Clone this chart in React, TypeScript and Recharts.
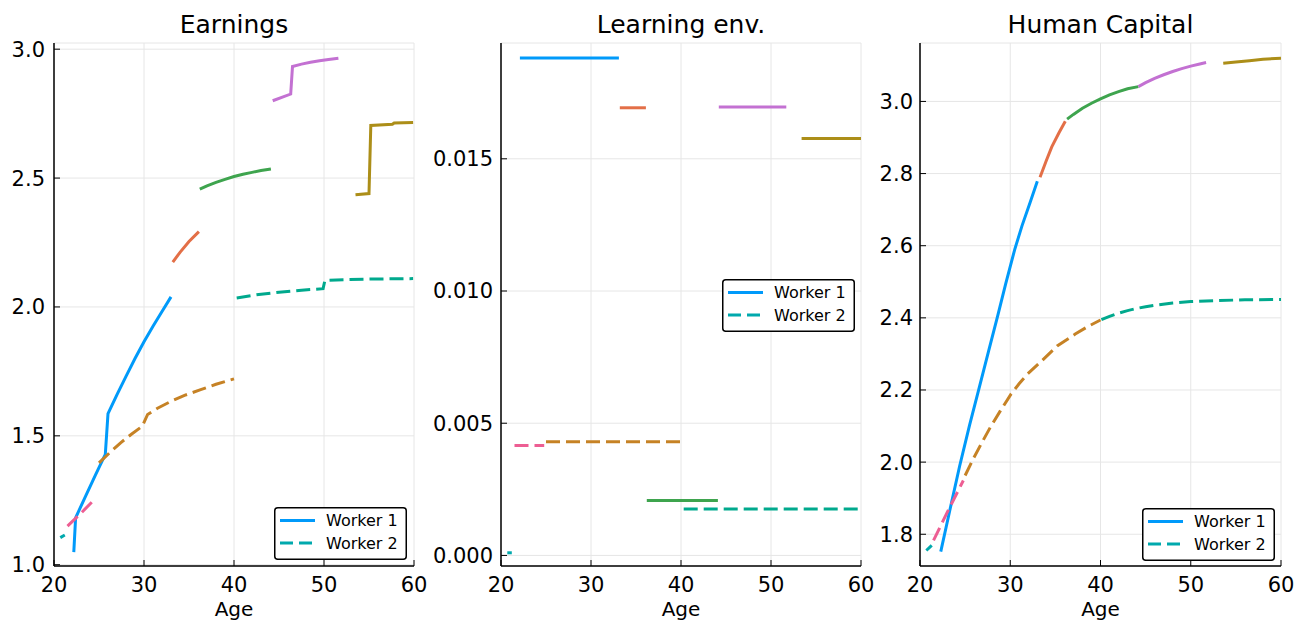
import React from 'react';
import { LineChart, Line, XAxis, YAxis, CartesianGrid, Legend } from 'recharts';

type Pt = [number, number];

const FONT = "'DejaVu Sans', sans-serif";

// Julia default palette
const C_BLUE = '#009AFA';
const C_ORANGE = '#E36F47';
const C_GREEN = '#3EA44E';
const C_PURPLE = '#C371D2';
const C_OLIVE = '#AC8E18';
const C_TEAL = '#00A9AD';
const C_PINK = '#ED5E93';
const C_BROWN = '#C68225';
const C_TEALGREEN = '#00A98D';

const ageTicks = [20, 30, 40, 50, 60];
const earnTicks = [1.0, 1.5, 2.0, 2.5, 3.0];
const learnTicks = [0, 0.005, 0.01, 0.015];
const hcTicks = [1.8, 2.0, 2.2, 2.4, 2.6, 2.8, 3.0];

// ---------- Earnings ----------
const earnW1Job1: Pt[] = [[22.2, 1.049], [22.4, 1.182], [23.5, 1.265], [24.6, 1.348], [25.7, 1.428], [26.0, 1.586], [27.0, 1.66], [28.0, 1.731], [29.0, 1.8], [30.0, 1.865], [31.0, 1.925], [32.0, 1.982], [33.0, 2.039]];
const earnW1Job2: Pt[] = [[33.2, 2.174], [34.0, 2.212], [35.0, 2.254], [36.1, 2.292]];
const earnW1Job3: Pt[] = [[36.2, 2.457], [37.0, 2.47], [38.0, 2.483], [39.0, 2.495], [40.0, 2.506], [41.0, 2.515], [42.0, 2.522], [43.0, 2.529], [44.1, 2.535]];
const earnW1Job4: Pt[] = [[44.3, 2.8], [46.3, 2.826], [46.5, 2.933], [47.5, 2.942], [48.5, 2.949], [49.5, 2.955], [50.5, 2.96], [51.6, 2.965]];
const earnW1Job5: Pt[] = [[53.5, 2.435], [55.0, 2.44], [55.2, 2.704], [57.6, 2.709], [57.8, 2.714], [59.9, 2.716]];
const earnW2Job1: Pt[] = [[20.7, 1.105], [21.2, 1.115]];
const earnW2Job2: Pt[] = [[21.5, 1.15], [23.0, 1.2], [24.6, 1.257]];
const earnW2Job3: Pt[] = [[25.0, 1.395], [26.2, 1.435], [27.4, 1.473], [28.6, 1.506], [29.8, 1.537], [30.4, 1.583], [31.5, 1.607], [33.0, 1.634], [34.5, 1.657], [36.3, 1.679], [38.0, 1.7], [40.0, 1.721]];
const earnW2Job4: Pt[] = [[40.3, 2.035], [42.5, 2.047], [45.0, 2.057], [47.5, 2.065], [49.9, 2.071], [50.1, 2.103], [52.5, 2.106], [55.0, 2.108], [59.9, 2.11]];

// ---------- Learning environment ----------
const learnW1Job1: Pt[] = [[22.1, 0.01881], [33.1, 0.01881]];
const learnW1Job2: Pt[] = [[33.2, 0.01693], [36.1, 0.01693]];
const learnW1Job3: Pt[] = [[36.2, 0.00208], [44.1, 0.00208]];
const learnW1Job4: Pt[] = [[44.2, 0.01696], [51.7, 0.01696]];
const learnW1Job5: Pt[] = [[53.4, 0.01577], [60.0, 0.01577]];
const learnW2Job1: Pt[] = [[20.7, 0.0001], [21.2, 0.0001]];
const learnW2Job2: Pt[] = [[21.5, 0.00416], [24.8, 0.00416]];
const learnW2Job3: Pt[] = [[25.0, 0.0043], [40.0, 0.0043]];
const learnW2Job4: Pt[] = [[40.3, 0.00176], [60.0, 0.00176]];

// ---------- Human capital ----------
const hcW1Job1: Pt[] = [[22.3, 1.752], [23.3, 1.866], [24.4, 1.99], [25.5, 2.103], [26.5, 2.2], [27.6, 2.308], [28.6, 2.405], [29.5, 2.495], [30.5, 2.59], [31.3, 2.655], [32.2, 2.72], [33.0, 2.779]];
const hcW1Job2: Pt[] = [[33.3, 2.79], [34.0, 2.836], [34.6, 2.874], [35.4, 2.913], [36.1, 2.945]];
const hcW1Job3: Pt[] = [[36.3, 2.951], [37.0, 2.964], [38.0, 2.981], [39.0, 2.995], [40.0, 3.007], [41.0, 3.018], [42.0, 3.027], [43.0, 3.035], [44.2, 3.041]];
const hcW1Job4: Pt[] = [[44.2, 3.041], [45.0, 3.052], [46.0, 3.064], [47.0, 3.074], [48.0, 3.083], [49.0, 3.091], [50.0, 3.098], [51.0, 3.104], [51.7, 3.108]];
const hcW1Job5: Pt[] = [[53.6, 3.106], [55.0, 3.109], [56.5, 3.113], [58.0, 3.117], [60.0, 3.12]];
const hcW2Job1: Pt[] = [[20.7, 1.755], [21.3, 1.769]];
const hcW2Job2: Pt[] = [[21.5, 1.783], [23.0, 1.86], [24.8, 1.949]];
const hcW2Job3: Pt[] = [[25.0, 1.963], [25.9, 2.009], [26.9, 2.056], [27.8, 2.097], [28.9, 2.142], [30.1, 2.189], [31.0, 2.218], [31.9, 2.244], [33.5, 2.281], [35.2, 2.322], [37.2, 2.355], [38.6, 2.376], [40.0, 2.394]];
const hcW2Job4: Pt[] = [[40.1, 2.395], [41.0, 2.404], [42.0, 2.413], [43.0, 2.42], [44.0, 2.426], [45.0, 2.431], [46.0, 2.435], [48.0, 2.441], [50.0, 2.445], [53.0, 2.448], [56.0, 2.45], [60.0, 2.451]];

type Seg = { pts: Pt[]; color: string; dashed: boolean };

const w1Colors = [C_BLUE, C_ORANGE, C_GREEN, C_PURPLE, C_OLIVE];
const w2Colors = [C_TEAL, C_PINK, C_BROWN, C_TEALGREEN];

const makeSegs = (w1: Pt[][], w2: Pt[][]): Seg[] => [
  ...w1.map((pts, i) => ({ pts, color: w1Colors[i], dashed: false })),
  ...w2.map((pts, i) => ({ pts, color: w2Colors[i], dashed: true })),
];

const earnSegs = makeSegs([earnW1Job1, earnW1Job2, earnW1Job3, earnW1Job4, earnW1Job5], [earnW2Job1, earnW2Job2, earnW2Job3, earnW2Job4]);
const learnSegs = makeSegs([learnW1Job1, learnW1Job2, learnW1Job3, learnW1Job4, learnW1Job5], [learnW2Job1, learnW2Job2, learnW2Job3, learnW2Job4]);
const hcSegs = makeSegs([hcW1Job1, hcW1Job2, hcW1Job3, hcW1Job4, hcW1Job5], [hcW2Job1, hcW2Job2, hcW2Job3, hcW2Job4]);

const toData = (pts: Pt[]) => pts.map(([age, v]) => ({ age, v }));

const DASH = '14 6';

function LegendBox() {
  return (
    <svg width={133} height={53} style={{ display: 'block' }}>
      <rect x={0.75} y={0.75} width={131.5} height={51.5} rx={3} ry={3} fill="#fff" stroke="#000" strokeWidth={1.5} />
      <line x1={6} x2={41} y1={13.5} y2={13.5} stroke={C_BLUE} strokeWidth={3} />
      <text x={52} y={13.5} dominantBaseline="central" fontSize={16} fontFamily={FONT} fill="#000">Worker 1</text>
      <line x1={6} x2={41} y1={36} y2={36} stroke={C_TEAL} strokeWidth={3} strokeDasharray="13 6" />
      <text x={52} y={36} dominantBaseline="central" fontSize={16} fontFamily={FONT} fill="#000">Worker 2</text>
    </svg>
  );
}

type PanelProps = {
  left: number;
  width: number;
  yAxisWidth: number;
  marginRight: number;
  domain: [number, number];
  ticks: number[];
  fmt: (v: number) => string;
  segs: Seg[];
  legendLeft: number;
  legendTop: number;
  title: string;
  yTickMargin: number;
};

const TICK_FONT = 21;

function Panel(p: PanelProps) {
  const plotW = p.width - p.yAxisWidth - p.marginRight;
  return (
    <div style={{ position: 'absolute', left: p.left, top: 0, width: p.width, height: 623 }}>
      <LineChart width={p.width} height={623} margin={{ top: 43, right: p.marginRight, bottom: 0, left: 0 }}>
        <CartesianGrid stroke="#e6e6e6" strokeWidth={1} />
        <XAxis
          type="number"
          dataKey="age"
          domain={[20, 60]}
          ticks={ageTicks}
          allowDataOverflow
          height={57}
          axisLine={{ stroke: '#000', strokeWidth: 1.5 }}
          tickLine={{ stroke: '#000', strokeWidth: 1 }}
          tickSize={-6}
          tickMargin={17}
          tick={{ fill: '#000', fontSize: TICK_FONT, fontFamily: FONT }}
          label={{ value: 'Age', position: 'insideBottom', offset: 7, fill: '#000', fontSize: 20, fontFamily: FONT }}
        />
        <YAxis
          type="number"
          domain={p.domain}
          ticks={p.ticks}
          allowDataOverflow
          width={p.yAxisWidth}
          tickFormatter={p.fmt}
          axisLine={{ stroke: '#000', strokeWidth: 1.5 }}
          tickLine={{ stroke: '#000', strokeWidth: 1 }}
          tickSize={-6}
          tickMargin={p.yTickMargin}
          tick={{ fill: '#000', fontSize: TICK_FONT, fontFamily: FONT }}
        />
        {p.segs.map((s, i) => (
          <Line
            key={i}
            data={toData(s.pts)}
            dataKey="v"
            type="linear"
            stroke={s.color}
            strokeWidth={3}
            strokeDasharray={s.dashed ? DASH : undefined}
            dot={false}
            activeDot={false}
            legendType="none"
            isAnimationActive={false}
          />
        ))}
        <Legend
          layout="horizontal"
          verticalAlign="middle"
          align="center"
          wrapperStyle={{ left: p.legendLeft, top: p.legendTop, width: 133, height: 53 }}
          content={() => <LegendBox />}
        />
      </LineChart>
      <div
        style={{
          position: 'absolute',
          left: p.yAxisWidth,
          width: plotW,
          top: 12,
          textAlign: 'center',
          fontSize: 25,
          lineHeight: '25px',
          fontFamily: FONT,
          color: '#000',
        }}
      >
        {p.title}
      </div>
    </div>
  );
}

export default function App() {
  return (
    <div style={{ position: 'absolute', left: 0, top: 0, width: 1299, height: 623, background: '#fff', overflow: 'hidden' }}>
      <Panel
        left={0}
        width={430}
        yAxisWidth={54}
        marginRight={16}
        domain={[0.995, 3.024]}
        ticks={earnTicks}
        fmt={(v) => v.toFixed(1)}
        segs={earnSegs}
        legendLeft={274}
        legendTop={507}
        title="Earnings"
        yTickMargin={15}
      />
      <Panel
        left={430}
        width={450}
        yAxisWidth={71}
        marginRight={19}
        domain={[-0.0004, 0.01938]}
        ticks={learnTicks}
        fmt={(v) => v.toFixed(3)}
        segs={learnSegs}
        legendLeft={292}
        legendTop={279}
        title="Learning env."
        yTickMargin={14}
      />
      <Panel
        left={870}
        width={429}
        yAxisWidth={50}
        marginRight={18}
        domain={[1.712, 3.162]}
        ticks={hcTicks}
        fmt={(v) => v.toFixed(1)}
        segs={hcSegs}
        legendLeft={272}
        legendTop={508}
        title="Human Capital"
        yTickMargin={13}
      />
    </div>
  );
}
